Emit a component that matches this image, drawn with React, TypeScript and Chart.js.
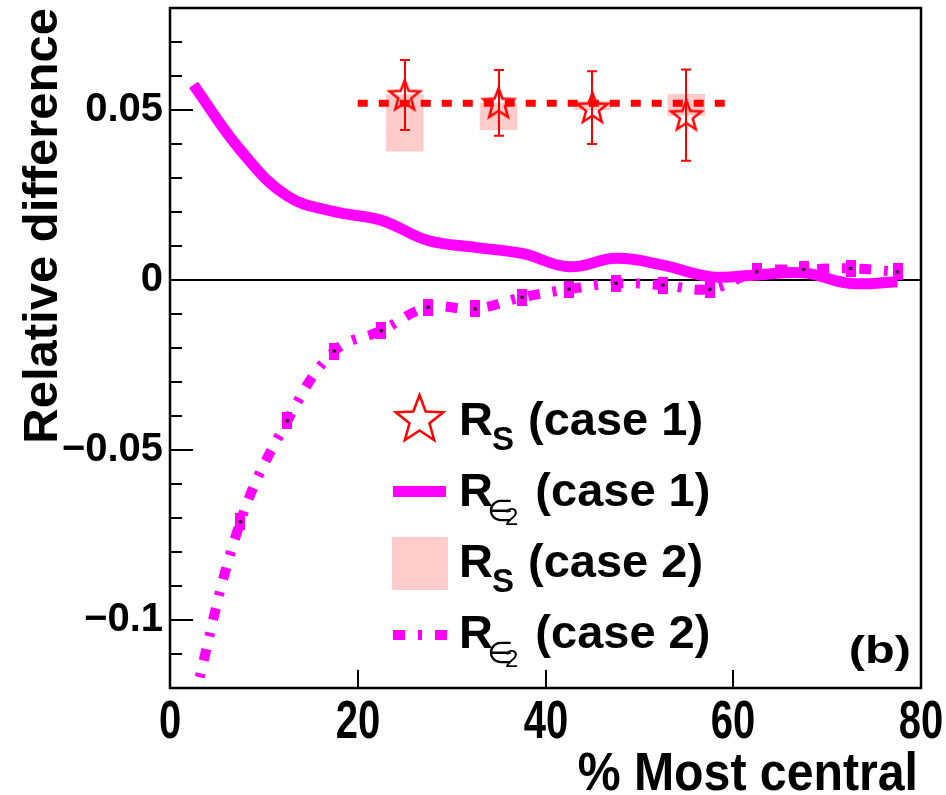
import React, { useEffect, useRef } from 'react';
import { Chart, registerables } from 'chart.js';

Chart.register(...registerables);

// ---------- data ----------
const centralityBins = [2.5, 7.5, 12.5, 17.5, 22.5, 27.5, 32.5, 37.5, 42.5, 47.5, 52.5, 57.5, 62.5, 67.5, 72.5, 77.5];
const rEps2Case1 = [0.0574, 0.0382, 0.0247, 0.0201, 0.0176, 0.0116, 0.0096, 0.0078, 0.0039, 0.0064, 0.0044, 0.001, 0.0015, 0.0021, -0.001, -0.0005];
const rEps2Case2 = [-0.124, -0.0711, -0.0414, -0.0209, -0.0149, -0.008, -0.0085, -0.0051, -0.0027, -0.001, -0.0015, -0.0027, 0.0024, 0.0031, 0.0034, 0.0024];

const rsCentrality = [25, 35, 45, 55];
const rsCase1 = [0.0544, 0.0521, 0.0507, 0.0485];
const rsCase1Err = [0.0103, 0.0097, 0.0107, 0.0134];
const rsCase2 = [0.0462, 0.0481, 0.0513, 0.0515];
const rsCase2Err = [0.0084, 0.004, 0.0013, 0.0032];
const rsBoxHalfWidth = 2;

const rsAverageRange = [20, 60];
const rsAverageValue = 0.052;

const xTickValues = [0, 20, 40, 60, 80];
const yLabelledTicks = [0.05, 0, -0.05, -0.1];

const xTitle = '% Most central';
const yTitle = 'Relative difference';
const legendLabels = ['(case 1)', '(case 1)', '(case 2)', '(case 2)'];
const panelLabel = '(b)';

// ---------- styles ----------
const SANS = "'Liberation Sans', Arial, Helvetica, sans-serif";
const MAGENTA = '#ff00ff';
const RED = '#ff0000';
const PINK = '#ffcccc';

function starPath(g: CanvasRenderingContext2D, cx: number, cy: number, R: number, r: number) {
  g.beginPath();
  for (let k = 0; k < 10; k++) {
    const a = -Math.PI / 2 + (k * Math.PI) / 5;
    const rad = k % 2 === 0 ? R : r;
    const px = cx + rad * Math.cos(a);
    const py = cy + rad * Math.sin(a);
    if (k === 0) g.moveTo(px, py);
    else g.lineTo(px, py);
  }
  g.closePath();
}

function makeStarImage(R: number, lw: number) {
  const size = Math.ceil(2 * R + 2 * lw + 4);
  const c = document.createElement('canvas');
  c.width = size;
  c.height = size;
  const g = c.getContext('2d')!;
  starPath(g, size / 2, size / 2 + R * 0.08, R, R * 0.42);
  g.strokeStyle = RED;
  g.lineWidth = lw;
  g.lineJoin = 'miter';
  g.stroke();
  return c;
}

function makeMarkerImage() {
  const c = document.createElement('canvas');
  c.width = 10;
  c.height = 17;
  const g = c.getContext('2d')!;
  g.fillStyle = MAGENTA;
  g.fillRect(0, 0, 10, 17);
  g.fillStyle = '#000';
  g.fillRect(3.5, 7, 3, 3);
  return c;
}

function fmtY(v: number) {
  const s = String(Math.round(v * 100) / 100);
  return s.replace('-', '\u2212');
}

function drawLegendLabel(ctx: CanvasRenderingContext2D, x: number, base: number, sub: 'S' | 'eps', rest: string) {
  ctx.fillStyle = '#000';
  ctx.textAlign = 'left';
  ctx.textBaseline = 'alphabetic';
  ctx.font = `bold 47px ${SANS}`;
  ctx.fillText('R', x, base);
  let cx = x + ctx.measureText('R').width;
  if (sub === 'S') {
    ctx.font = `bold 33px ${SANS}`;
    ctx.fillText('S', cx - 1, base + 15);
    cx += ctx.measureText('S').width;
  } else {
    ctx.font = `30px 'DejaVu Sans', ${SANS}`;
    ctx.fillText('\u2208', cx - 6, base + 15);
    cx += 12;
    ctx.font = `24px ${SANS}`;
    ctx.fillText('2', cx, base + 19);
    cx += ctx.measureText('2').width + 4;
  }
  ctx.font = `bold 47px ${SANS}`;
  ctx.fillText(' ' + rest, cx, base);
}

function drawSqueezed(ctx: CanvasRenderingContext2D, text: string, x: number, y: number, sx: number, font: string, align: CanvasTextAlign) {
  ctx.save();
  ctx.translate(x, y);
  ctx.scale(sx, 1);
  ctx.font = font;
  ctx.fillStyle = '#000';
  ctx.textAlign = align;
  ctx.textBaseline = 'alphabetic';
  ctx.fillText(text, 0, 0);
  ctx.restore();
}

const decorPlugin = {
  id: 'decor',
  beforeDatasetsDraw(chart: any) {
    const { ctx, chartArea, scales } = chart;
    const x = scales.x;
    const y = scales.y;
    ctx.save();
    // R_S case 2 boxes
    ctx.fillStyle = PINK;
    rsCentrality.forEach((c, i) => {
      const x0 = x.getPixelForValue(c - rsBoxHalfWidth);
      const x1 = x.getPixelForValue(c + rsBoxHalfWidth);
      const y0 = y.getPixelForValue(rsCase2[i] + rsCase2Err[i]);
      const y1 = y.getPixelForValue(rsCase2[i] - rsCase2Err[i]);
      ctx.fillRect(x0, y0, x1 - x0, y1 - y0);
    });
    // zero line
    const yz = Math.round(y.getPixelForValue(0));
    ctx.strokeStyle = '#000';
    ctx.lineWidth = 2;
    ctx.beginPath();
    ctx.moveTo(chartArea.left, yz);
    ctx.lineTo(chartArea.right, yz);
    ctx.stroke();
    ctx.restore();
  },
  afterDatasetsDraw(chart: any) {
    const { ctx, chartArea, scales } = chart;
    const x = scales.x;
    const y = scales.y;
    const { left, right, top, bottom } = chartArea;
    ctx.save();
    // error bars for R_S case 1
    ctx.strokeStyle = RED;
    ctx.lineWidth = 2;
    rsCentrality.forEach((c, i) => {
      const px = Math.round(x.getPixelForValue(c));
      const yt = y.getPixelForValue(rsCase1[i] + rsCase1Err[i]);
      const yb = y.getPixelForValue(rsCase1[i] - rsCase1Err[i]);
      ctx.beginPath();
      ctx.moveTo(px, yt);
      ctx.lineTo(px, yb);
      ctx.moveTo(px - 5, yt);
      ctx.lineTo(px + 5, yt);
      ctx.moveTo(px - 5, yb);
      ctx.lineTo(px + 5, yb);
      ctx.stroke();
    });

    // frame
    ctx.strokeStyle = '#000';
    ctx.lineWidth = 2.5;
    ctx.strokeRect(left, top, right - left, bottom - top);

    // y ticks (inward)
    ctx.lineWidth = 2;
    y.ticks.forEach((t: any) => {
      const v = Math.round(t.value * 100);
      const major = yLabelledTicks.some((m) => Math.round(m * 100) === v);
      const py = Math.round(y.getPixelForValue(t.value));
      ctx.beginPath();
      ctx.moveTo(left, py);
      ctx.lineTo(left + (major ? 23 : 12), py);
      ctx.stroke();
    });
    // x ticks (inward) + condensed labels
    x.ticks.forEach((t: any) => {
      const px = Math.round(x.getPixelForValue(t.value));
      ctx.beginPath();
      ctx.moveTo(px, bottom);
      ctx.lineTo(px, bottom - 18);
      ctx.stroke();
      drawSqueezed(ctx, String(t.value), px, bottom + 50, 0.74, `bold 54px ${SANS}`, 'center');
    });
    // x title (condensed)
    drawSqueezed(ctx, xTitle, right - 3, 790, 0.91, `bold 53px ${SANS}`, 'right');

    // legend
    const symL = 393;
    const symR = 446;
    const textX = 459;
    const bases = [435, 506, 577, 648];
    starPath(ctx, 419.5, 420, 25, 25 * 0.42);
    ctx.strokeStyle = RED;
    ctx.lineWidth = 2.5;
    ctx.stroke();
    ctx.strokeStyle = MAGENTA;
    ctx.lineWidth = 11;
    ctx.lineCap = 'butt';
    ctx.beginPath();
    ctx.moveTo(symL, 491.5);
    ctx.lineTo(symR, 491.5);
    ctx.stroke();
    ctx.fillStyle = PINK;
    ctx.fillRect(392, 537, 56, 53);
    ctx.lineWidth = 10;
    ctx.setLineDash([12, 13, 4, 13]);
    ctx.beginPath();
    ctx.moveTo(symL, 635);
    ctx.lineTo(symL + 54, 635);
    ctx.stroke();
    ctx.setLineDash([]);

    drawLegendLabel(ctx, textX, bases[0], 'S', legendLabels[0]);
    drawLegendLabel(ctx, textX, bases[1], 'eps', legendLabels[1]);
    drawLegendLabel(ctx, textX, bases[2], 'S', legendLabels[2]);
    drawLegendLabel(ctx, textX, bases[3], 'eps', legendLabels[3]);

    // panel label
    drawSqueezed(ctx, panelLabel, 911, 663, 1.25, `bold 39px ${SANS}`, 'right');

    ctx.restore();
  },
};

export default function App() {
  const ref = useRef<HTMLCanvasElement>(null);
  useEffect(() => {
    const prevMargin = document.body.style.margin;
    document.body.style.margin = '0';
    const canvas = ref.current!;
    const starImg = makeStarImage(16, 2.5);
    const markerImg = makeMarkerImage();

    const chart = new Chart(canvas, {
      type: 'line',
      data: {
        datasets: [
          {
            label: 'R_S (case 1)',
            data: rsCentrality.map((c, i) => ({ x: c, y: rsCase1[i] })),
            showLine: false,
            pointStyle: starImg as any,
            pointRadius: 10,
            borderColor: RED,
            backgroundColor: RED,
            order: 0,
          },
          {
            label: 'R_S average',
            data: rsAverageRange.map((c) => ({ x: c, y: rsAverageValue })),
            borderColor: RED,
            borderWidth: 7,
            borderDash: [10, 11],
            borderCapStyle: 'butt',
            pointRadius: 0,
            order: 1,
          },
          {
            label: 'R_eps2 (case 2)',
            data: centralityBins.map((c, i) => ({ x: c, y: rEps2Case2[i] })),
            borderColor: MAGENTA,
            backgroundColor: MAGENTA,
            borderWidth: 10,
            borderDash: [12, 13, 4, 13],
            borderCapStyle: 'butt',
            tension: 0.4,
            pointStyle: markerImg as any,
            pointRadius: 8,
            order: 2,
          },
          {
            label: 'R_eps2 (case 1)',
            data: centralityBins.map((c, i) => ({ x: c, y: rEps2Case1[i] })),
            borderColor: MAGENTA,
            borderWidth: 11,
            tension: 0.4,
            pointRadius: 0,
            order: 3,
          },
        ] as any,
      },
      options: {
        responsive: false,
        animation: false,
        events: [],
        layout: { autoPadding: false, padding: { left: 0, top: 8, right: 25, bottom: 0 } },
        plugins: {
          legend: { display: false },
          tooltip: { enabled: false },
        },
        scales: {
          x: {
            type: 'linear',
            min: 0,
            max: 80,
            afterBuildTicks: (s: any) => {
              s.ticks = xTickValues.map((v) => ({ value: v }));
            },
            ticks: { display: false },
            grid: { display: false, drawTicks: false },
            border: { display: false },
            title: { display: false, text: xTitle },
            afterFit: (s: any) => {
              s.height = 107;
              s.paddingLeft = 0;
              s.paddingRight = 0;
            },
          },
          y: {
            type: 'linear',
            min: -0.12,
            max: 0.08,
            ticks: {
              stepSize: 0.01,
              autoSkip: false,
              padding: 7,
              color: '#000',
              font: { family: SANS, size: 40, weight: 'bold' },
              callback: (v: any) => {
                const n = Math.round(Number(v) * 100);
                return yLabelledTicks.some((m) => Math.round(m * 100) === n) ? fmtY(Number(v)) : '';
              },
            },
            grid: { display: false, drawTicks: false },
            border: { display: false },
            title: {
              display: true,
              text: yTitle,
              align: 'end',
              color: '#000',
              font: { family: SANS, size: 49, weight: 'bold', lineHeight: 1.2 },
              padding: { top: 14, bottom: 0 },
            },
            afterFit: (s: any) => {
              s.width = 170;
              s.paddingTop = 0;
              s.paddingBottom = 0;
            },
          },
        },
      } as any,
      plugins: [decorPlugin],
    });
    return () => {
      chart.destroy();
      document.body.style.margin = prevMargin;
    };
  }, []);
  return <canvas ref={ref} width={946} height={795} style={{ display: 'block', width: 946, height: 795 }} />;
}
